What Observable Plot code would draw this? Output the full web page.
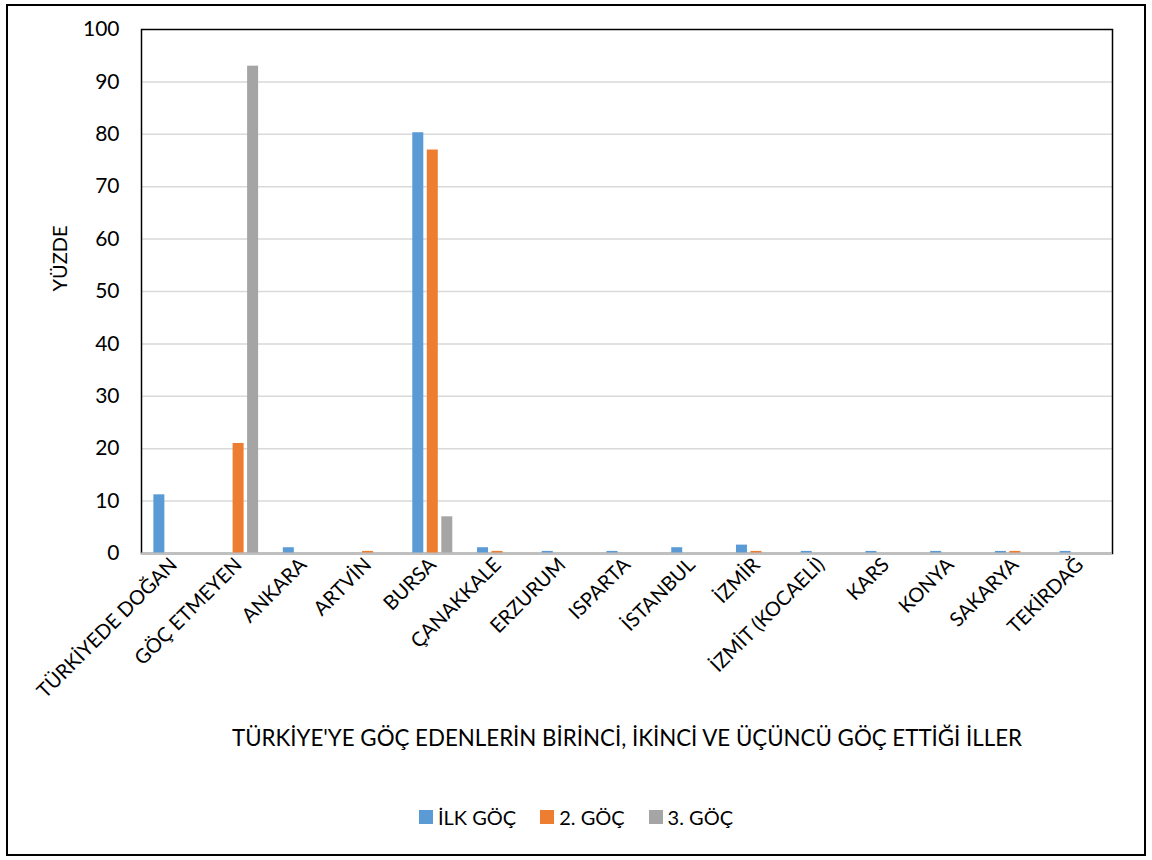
<!DOCTYPE html>
<html>
<head>
<meta charset="utf-8">
<script src="https://cdn.jsdelivr.net/npm/d3@7"></script>
<script src="https://cdn.jsdelivr.net/npm/@observablehq/plot@0.6"></script>
<style>
  body { margin: 0; background: #fff; font-family: Lato, "Open Sans", sans-serif; }
  #box { position: absolute; left: 6px; top: 4px; width: 1136px; height: 848px; border: 2px solid #000; }
  #legend { display: flex; justify-content: center; gap: 24px; margin-top: 29px; font-size: 20px; color: #000; }
  #legend span.item { display: flex; align-items: center; gap: 5px; }
  #legend span.sw { width: 14px; height: 14px; display: inline-block; }
</style>
</head>
<body>
<div id="box"><div id="chart"></div><div id="legend"></div></div>
<script>
const categories = ["TÜRKİYEDE DOĞAN", "GÖÇ ETMEYEN", "ANKARA", "ARTVİN", "BURSA", "ÇANAKKALE", "ERZURUM", "ISPARTA", "İSTANBUL", "İZMİR", "İZMİT (KOCAELİ)", "KARS", "KONYA", "SAKARYA", "TEKİRDAĞ"];
const seriesNames = ["İLK GÖÇ", "2. GÖÇ", "3. GÖÇ"];
const colors = ["#5B9BD5", "#ED7D31", "#A5A5A5"];
const ilkGoc = [11.2, 0, 1.1, 0, 80.3, 1.1, 0.4, 0.4, 1.1, 1.6, 0.4, 0.4, 0.4, 0.4, 0.4];
const ikinciGoc = [0, 21, 0, 0.4, 77, 0.4, 0, 0, 0, 0.4, 0, 0, 0, 0.4, 0];
const ucuncuGoc = [0, 93, 0, 0, 7, 0, 0, 0, 0, 0, 0, 0, 0, 0, 0];
const yTicks = [0, 10, 20, 30, 40, 50, 60, 70, 80, 90, 100];
const xTitle = "TÜRKİYE'YE GÖÇ EDENLERİN BİRİNCİ, İKİNCİ VE ÜÇÜNCÜ GÖÇ ETTİĞİ İLLER";
const yTitle = "YÜZDE";

const seriesValues = [ilkGoc, ikinciGoc, ucuncuGoc];
const W = 1136, H = 770, mL = 133, mR = 32, mT = 23, mB = 223;
const band = (W - mL - mR) / categories.length;
const barW = 11, step = 14.5;

const barMarks = seriesValues.map((vals, i) => {
  const rows = categories.map((c, j) => ({cat: c, value: vals[j], series: seriesNames[i]})).filter(d => d.value > 0);
  return Plot.barY(rows, {
    x: "cat", y: "value", fill: colors[i],
    insetLeft: (band - barW) / 2, insetRight: (band - barW) / 2,
    dx: (i - 1) * step
  });
});

const chart = Plot.plot({
  width: W, height: H,
  marginLeft: mL, marginRight: mR, marginTop: mT, marginBottom: mB,
  style: {fontFamily: "Lato, 'Open Sans', sans-serif", color: "#000", background: "#fff"},
  x: {domain: categories, padding: 0, round: false, label: null},
  y: {domain: [0, 100], label: null},
  marks: [
    Plot.ruleY(yTicks.filter(t => t > 0 && t < 100), {stroke: "#d9d9d9", strokeWidth: 1.5}),
    Plot.frame({stroke: "#000", strokeWidth: 1.5}),
    ...barMarks,
    Plot.ruleY([0], {stroke: "#bfbfbf", strokeWidth: 2}),
    Plot.axisY({ticks: yTicks, tickSize: 0, tickPadding: 22, fontSize: 21, label: null}),
    Plot.axisX({tickSize: 0, tickPadding: 8, tickRotate: -45, fontSize: 20, label: null}),
    Plot.text([yTitle], {frameAnchor: "left", rotate: -90, dx: -81, fontSize: 20}),
    Plot.text([xTitle], {frameAnchor: "bottom", dy: 192, fontSize: 22.3})
  ]
});
document.getElementById("chart").appendChild(chart);

const legend = document.getElementById("legend");
seriesNames.forEach((s, i) => {
  const item = document.createElement("span");
  item.className = "item";
  item.innerHTML = `<span class="sw" style="background:${colors[i]}"></span><span>${s}</span>`;
  legend.appendChild(item);
});
</script>
</body>
</html>
